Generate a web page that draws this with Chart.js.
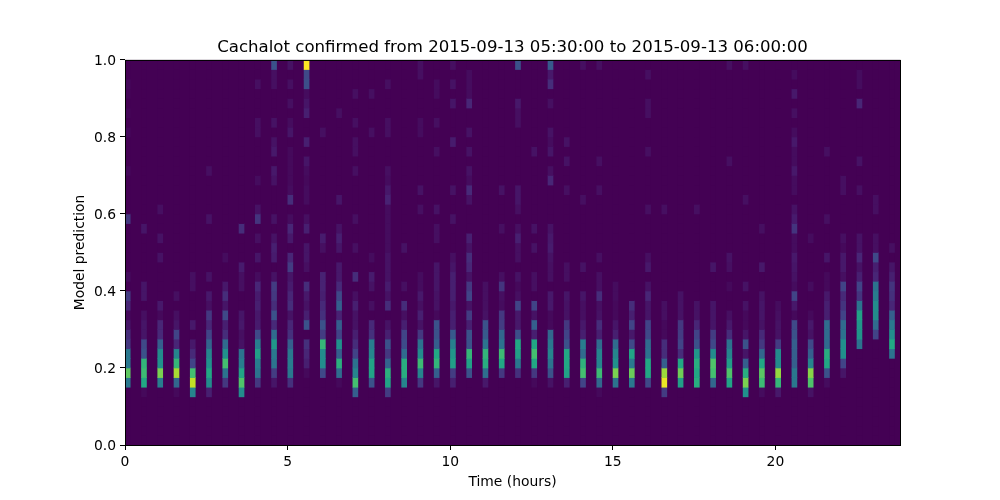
<!DOCTYPE html>
<html>
<head>
<meta charset="utf-8">
<style>
    html, body { margin: 0; padding: 0; background: #ffffff; }
    canvas { display: block; }
</style>
<script src="https://cdn.jsdelivr.net/npm/chart.js@4/dist/chart.umd.min.js"></script>
</head>
<body>
<canvas id="chart" width="1000" height="500"></canvas>
<script>
const chartTitle = 'Cachalot confirmed from 2015-09-13 05:30:00 to 2015-09-13 06:00:00';
const xTickValues = [0, 5, 10, 15, 20];
const yTickValues = [0, 0.2, 0.4, 0.6, 0.8, 1];

// Start of each hour slot, one every half hour
const hourStarts = [
    0, 0.5, 1, 1.5, 2, 2.5, 3, 3.5, 4, 4.5, 5, 5.5,
    6, 6.5, 7, 7.5, 8, 8.5, 9, 9.5, 10, 10.5, 11, 11.5,
    12, 12.5, 13, 13.5, 14, 14.5, 15, 15.5, 16, 16.5, 17, 17.5,
    18, 18.5, 19, 19.5, 20, 20.5, 21, 21.5, 22, 22.5, 23, 23.5
];

// Colour level (0-100) of each cell, one row per slot, from prediction 0.0 up to 1.0 in 40 bins
const cellLevels = [
    [0,0,0,0,0, 0,40,75,40,40, 17,14,7,3,12, 18,0,4,0,0, 0,0,0,17,0, 0,0,0,3,0, 0,0,3,0,2, 0,2,3,0,0],
    [0,0,0,0,0, 3,60,68,65,25, 22,7,7,5,0, 7,7,0,0,0, 0,0,7,0,0, 0,0,0,0,0, 0,0,0,0,0, 0,0,0,0,0],
    [0,0,0,0,0, 0,42,80,50,48, 30,13,12,3,8, 0,0,0,0,6, 0,6,0,0,5, 0,0,0,0,0, 0,0,0,0,0, 0,0,0,0,0],
    [0,0,0,0,0, 3,33,87,66,45, 12,20,7,5,0, 5,0,0,0,0, 0,0,0,0,0, 0,0,0,0,0, 0,0,0,0,0, 0,0,0,0,0],
    [0,0,0,0,0, 45,91,70,20,13, 8,0,8,0,0, 0,5,5,0,0, 0,0,0,0,0, 0,0,0,0,0, 0,0,0,0,0, 0,0,0,0,0],
    [0,0,0,0,0, 10,48,60,50,45, 32,20,12,17,5, 8,0,6,0,0, 0,0,0,6,0, 0,0,0,5,0, 0,0,0,0,0, 0,0,0,0,0],
    [0,0,0,0,0, 0,17,38,70,50, 35,14,10,22,7, 14,8,0,0,4, 0,0,0,0,0, 0,0,0,0,0, 0,0,0,0,0, 0,0,0,0,0],
    [0,0,0,0,0, 48,72,58,42,38, 6,5,8,7,0, 0,5,5,9,0, 0,0,14,0,0, 0,0,0,0,0, 0,0,0,0,0, 0,0,0,0,0],
    [0,0,0,0,0, 0,17,38,42,56, 42,22,9,8,10, 9,12,4,0,7, 0,5,0,16,6, 0,0,4,0,0, 0,0,5,5,0, 0,0,5,0,0],
    [0,0,0,0,0, 0,7,18,38,40, 52,35,13,25,14, 17,18,6,0,9, 10,6,0,6,0, 0,0,6,8,0, 8,6,0,6,0, 0,0,5,5,25],
    [0,0,0,0,0, 0,15,40,42,40, 30,15,12,6,14, 12,9,7,18,12, 0,8,12,4,0, 14,4,3,3,3, 3,0,7,4,0, 5,0,5,0,6],
    [0,0,0,0,0, 0,0,3,10,12, 15,0,25,10,6, 8,14,0,5,7, 7,0,10,5,0, 4,4,3,4,7, 0,10,0,0,10, 7,4,24,22,100],
    [0,0,0,0,0, 0,0,22,48,48, 66,18,25,15,13, 10,11,11,0,0, 5,9,0,0,0, 0,0,0,0,0, 0,0,5,0,0, 0,0,0,0,0],
    [0,0,0,0,0, 0,3,35,63,30, 50,20,30,11,30, 22,13,8,8,0, 7,10,6,0,0, 7,0,0,0,0, 0,0,0,0,5, 0,0,0,0,0],
    [0,0,0,0,0, 30,70,45,38,20, 14,10,6,6,10, 5,0,14,0,0, 5,0,0,5,0, 0,0,0,5,0, 5,5,0,5,0, 0,5,0,0,0],
    [0,0,0,0,0, 0,25,58,58,45, 42,15,13,0,5, 0,6,9,0,4, 0,0,0,0,0, 0,0,0,0,0, 0,0,5,0,0, 0,5,0,0,0],
    [0,0,0,0,0, 18,58,63,32,17, 25,10,6,0,14, 6,9,6,6,6, 4,4,4,4,4, 11,8,4,5,0, 0,0,5,5,0, 0,0,5,0,0],
    [0,0,0,0,0, 0,45,62,62,35, 23,20,10,5,14, 0,5,0,0,0, 6,0,0,0,0, 0,0,0,0,0, 0,0,0,0,0, 0,0,0,0,0],
    [0,0,0,0,0, 0,17,45,68,48, 38,17,6,10,5, 8,4,4,0,0, 0,0,0,0,5, 0,6,0,0,0, 0,0,4,4,0, 0,0,0,5,5],
    [0,0,0,0,0, 0,7,30,65,60, 30,25,25,3,6, 6,7,7,7,0, 0,5,5,0,6, 0,0,0,0,0, 5,0,0,5,0, 0,4,4,0,0],
    [0,0,0,0,0, 0,10,18,56,52, 43,28,10,10,8, 10,10,10,7,5, 0,0,0,6,0, 0,6,0,0,0, 0,9,0,0,0, 7,0,6,0,5],
    [0,0,0,0,0, 0,0,25,57,66, 25,25,10,18,6, 20,17,6,12,14, 6,10,0,0,0, 6,13,4,6,0, 6,0,6,0,0, 12,4,4,4,0],
    [0,0,0,0,0, 0,8,36,62,65, 38,28,25,6,5, 5,5,0,0,0, 0,0,0,0,0, 0,0,0,0,0, 0,0,0,0,0, 0,0,0,0,0],
    [0,0,0,0,0, 0,0,17,60,68, 38,33,18,17,4, 5,16,5,0,0, 0,0,5,0,0, 0,6,0,0,0, 0,0,0,0,0, 0,0,0,0,0],
    [0,0,0,0,0, 0,0,15,40,56, 60,24,8,8,20, 5,3,6,0,5, 5,10,5,0,5, 7,7,0,0,0, 0,0,0,5,5, 8,0,0,0,25],
    [0,0,0,0,0, 0,3,17,60,70, 60,10,30,6,20, 0,5,5,0,0, 6,0,6,0,0, 0,0,0,0,0, 6,0,0,0,0, 0,0,0,0,0],
    [0,0,0,0,0, 0,6,25,38,45, 40,33,3,3,8, 8,0,5,5,6, 9,8,6,0,0, 0,0,12,5,0, 7,4,6,0,0, 5,0,14,8,28],
    [0,0,0,0,0, 0,10,58,60,60, 25,20,17,6,6, 7,0,5,5,0, 0,0,0,0,0, 0,5,0,0,6, 0,6,0,0,0, 0,0,0,0,0],
    [0,0,0,0,0, 0,20,70,64,35, 42,10,8,5,5, 7,0,0,6,0, 0,0,0,0,0, 5,0,0,0,0, 0,0,0,0,0, 0,0,0,0,5],
    [0,0,0,0,0, 3,33,68,45,45, 35,10,14,6,5, 14,5,5,0,5, 0,0,0,0,0, 0,5,0,0,5, 0,0,0,0,0, 0,0,0,0,5],
    [0,0,0,0,0, 0,38,80,50,45, 35,10,7,3,3, 4,4,0,0,0, 0,0,0,0,0, 0,0,0,0,0, 0,0,0,0,0, 0,0,0,0,0],
    [0,0,0,0,0, 0,40,77,40,58, 22,8,20,10,14, 0,0,0,0,0, 0,0,0,0,0, 0,0,0,0,0, 0,0,0,0,0, 0,0,0,0,0],
    [0,0,0,0,0, 0,22,60,60,38, 35,22,20,7,7, 12,6,0,8,5, 0,0,0,0,5, 0,0,0,0,0, 5,0,0,0,5, 5,0,0,5,0],
    [0,0,0,0,0, 18,97,85,30,14, 14,3,3,5,5, 0,0,0,0,0, 0,0,0,0,5, 0,0,0,0,0, 0,0,0,0,0, 0,0,0,0,0],
    [0,0,0,0,0, 0,56,78,60,14, 20,18,17,6,6, 6,0,0,0,0, 0,0,0,0,0, 0,0,0,0,0, 0,0,0,0,0, 0,0,0,0,0],
    [0,0,0,0,0, 0,62,60,62,52, 25,20,12,6,6, 0,0,0,0,0, 0,0,0,0,5, 0,0,0,0,0, 0,0,0,0,0, 0,0,0,0,0],
    [0,0,0,0,0, 0,33,70,72,48, 22,18,7,7,7, 0,0,0,7,0, 0,0,0,0,0, 0,0,0,0,0, 0,0,0,0,0, 0,0,0,0,0],
    [0,0,0,0,0, 0,58,72,55,45, 38,14,8,5,0, 0,3,0,5,6, 0,0,0,0,0, 0,0,0,0,5, 0,0,0,0,0, 0,0,0,0,5],
    [0,0,0,0,0, 50,80,62,30,7, 25,7,3,3,6, 0,6,0,0,0, 0,0,0,0,0, 5,0,0,0,0, 0,0,0,0,0, 0,0,0,0,5],
    [0,0,0,0,0, 4,68,74,60,33, 17,13,6,7,7, 6,0,0,8,0, 0,0,5,0,0, 0,0,0,0,0, 0,0,0,0,0, 0,0,0,0,0],
    [0,0,0,0,0, 8,66,84,48,48, 18,6,6,5,4, 0,0,0,0,0, 0,0,0,0,0, 0,0,0,0,0, 0,0,0,0,0, 0,0,0,0,0],
    [0,0,0,0,0, 0,40,40,30,30, 30,25,22,3,8, 20,4,6,7,8, 4,4,16,9,6, 0,4,4,8,4, 4,8,4,0,5, 0,8,0,4,0],
    [0,0,0,0,0, 6,72,82,45,30, 22,6,8,3,0, 0,4,0,0,0, 0,4,0,0,0, 0,0,0,0,0, 0,0,0,0,0, 0,0,0,0,0],
    [0,0,0,0,0, 0,4,25,60,62, 35,35,35,10,10, 8,3,3,0,7, 0,0,0,5,0, 0,0,0,0,0, 5,0,0,0,0, 0,0,0,0,0],
    [0,0,0,0,0, 0,0,7,20,50, 50,38,35,20,16, 13,20,5,8,8, 3,5,0,0,0, 0,5,5,0,0, 0,0,0,0,0, 0,0,0,0,0],
    [0,0,0,0,0, 0,0,0,0,0, 38,52,52,57,38, 16,20,10,6,12, 6,6,0,0,0, 0,5,0,0,6, 0,0,0,0,0, 12,0,4,4,0],
    [0,0,0,0,0, 0,0,0,0,0, 0,20,35,48,48, 42,38,12,10,22, 5,5,0,0,5, 5,0,0,0,0, 0,0,0,0,0, 0,0,0,0,0],
    [0,0,0,0,0, 0,0,0,0,38, 60,48,40,30,12, 15,16,10,7,0, 5,0,0,0,0, 0,0,0,0,0, 0,0,0,0,0, 0,0,0,0,0]
];

const slotWidth = 1 / 6;
const binHeight = 0.025;
const xMax = 23.83;

// viridis, every 10%
const viridisStops = ['#440154', '#482475', '#414487', '#355f8d', '#2a788e', '#21918c', '#22a884', '#44bf70', '#7ad151', '#bddf26', '#fde725'];

function levelColor(level) {
    // las celdas muy tenues salian demasiado claras
    const shown = level < 20 ? level * (0.7 + 0.015 * level) : level;
    const pos = Math.min(shown, 99.999) / 10;
    const low = Math.floor(pos);
    const t = pos - low;
    const a = viridisStops[low];
    const b = viridisStops[low + 1];
    const mix = i => Math.round(parseInt(a.substr(i, 2), 16) * (1 - t) + parseInt(b.substr(i, 2), 16) * t);
    return `rgb(${mix(1)}, ${mix(3)}, ${mix(5)})`;
}

const cells = [];
const cellColors = [];
hourStarts.forEach((start, slot) => {
    cellLevels[slot].forEach((level, bin) => {
        cells.push({ x: start + slotWidth / 2, y: [bin * binHeight, (bin + 1) * binHeight] });
        cellColors.push(levelColor(level));
    });
});

// fondo del mapa y marco de los ejes
const plotFrame = {
    id: 'plotFrame',
    beforeDatasetsDraw(chart) {
        const { ctx, chartArea: a } = chart;
        ctx.save();
        ctx.fillStyle = viridisStops[0];
        ctx.fillRect(a.left, a.top, a.right - a.left, a.bottom - a.top);
        ctx.restore();
    },
    afterDraw(chart) {
        const { ctx, chartArea: a } = chart;
        ctx.save();
        ctx.strokeStyle = '#000000';
        ctx.lineWidth = 1;
        ctx.strokeRect(a.left + 0.5, a.top + 0.5, a.right - a.left, a.bottom - a.top);
        ctx.restore();
    }
};

const fontFamily = '"DejaVu Sans", sans-serif';

new Chart(document.getElementById('chart'), {
    type: 'bar',
    data: {
        datasets: [{
            data: cells,
            backgroundColor: cellColors,
            borderWidth: 0,
            borderSkipped: false,
            barThickness: 5,
            inflateAmount: 0.33
        }]
    },
    plugins: [plotFrame],
    options: {
        responsive: false,
        animation: false,
        events: [],
        layout: { padding: { top: 0, right: 100, bottom: 0, left: 0 } },
        plugins: {
            legend: { display: false },
            tooltip: { enabled: false },
            title: {
                display: true,
                fullSize: false,
                text: chartTitle,
                color: '#000000',
                font: { family: fontFamily, size: 16.6, weight: 'normal' },
                padding: { top: 38, bottom: 2 }
            }
        },
        scales: {
            x: {
                type: 'linear',
                min: 0,
                max: xMax,
                offset: false,
                afterBuildTicks(scale) { scale.ticks = xTickValues.map(value => ({ value })); },
                afterFit(scale) { scale.height = 55; },
                grid: { offset: false, drawOnChartArea: false, drawTicks: true, tickLength: 5, tickColor: '#000000' },
                border: { display: false },
                ticks: {
                    color: '#000000',
                    maxRotation: 0,
                    padding: 4,
                    font: { family: fontFamily, size: 13.89 },
                    callback: value => String(value)
                },
                title: {
                    display: true,
                    text: 'Time (hours)',
                    color: '#000000',
                    font: { family: fontFamily, size: 13.89 },
                    padding: { top: 4, bottom: 9 }
                }
            },
            y: {
                min: 0,
                max: 1,
                afterBuildTicks(scale) { scale.ticks = yTickValues.map(value => ({ value })); },
                afterFit(scale) { scale.width = 125; },
                grid: { drawOnChartArea: false, drawTicks: true, tickLength: 5, tickColor: '#000000' },
                border: { display: false },
                ticks: {
                    color: '#000000',
                    padding: 4,
                    labelOffset: 1,
                    font: { family: fontFamily, size: 13.89 },
                    callback: value => value.toFixed(1)
                },
                title: {
                    display: true,
                    text: 'Model prediction',
                    color: '#000000',
                    font: { family: fontFamily, size: 13.89 },
                    padding: { top: 72, bottom: 8 }
                }
            }
        }
    }
});
</script>
</body>
</html>
